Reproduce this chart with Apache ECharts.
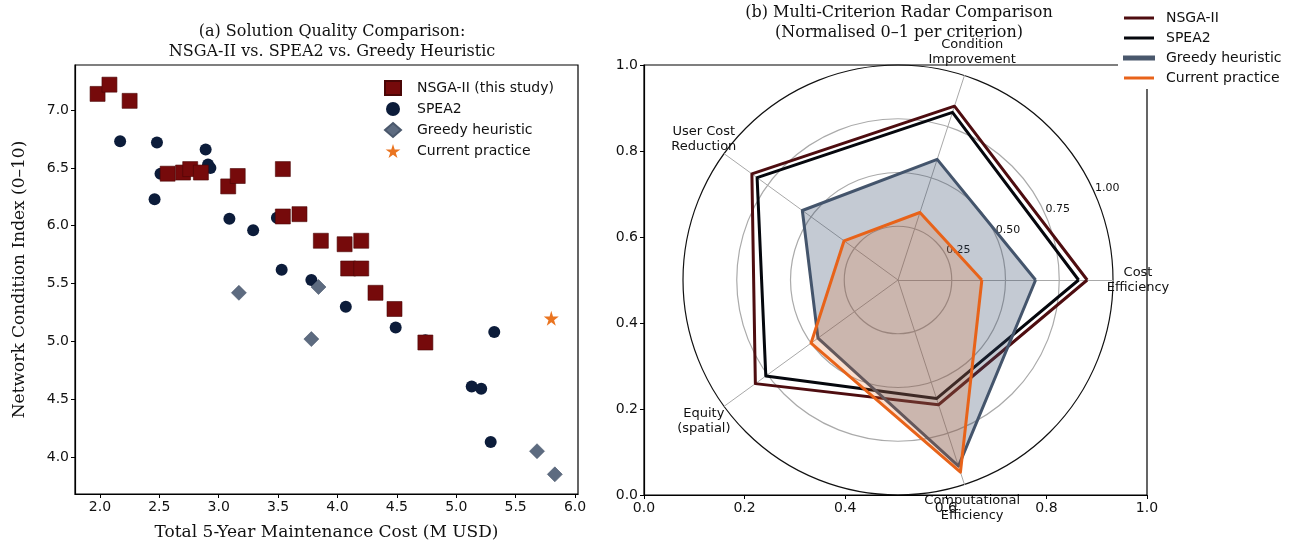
<!DOCTYPE html>
<html>
<head>
<meta charset="utf-8">
<script src="https://cdn.jsdelivr.net/npm/echarts@6/dist/echarts.min.js"></script>
<style>
html,body{margin:0;padding:0;background:#fff;}
#chart{width:1292px;height:546px;}
</style>
</head>
<body>
<div id="chart"></div>
<script>
// ---------------------------------
// 数据
// ---------------------------------

// (a) scatter: [cost M USD, condition index]
const nsgaPoints = [
[1.98,7.14],[2.08,7.22],[2.25,7.08],[2.57,6.45],[2.70,6.46],[2.76,6.49],
[2.85,6.46],[3.08,6.34],[3.16,6.43],[3.54,6.49],[3.54,6.08],[3.68,6.10],
[3.86,5.87],[4.06,5.84],[4.20,5.87],[4.09,5.63],[4.20,5.63],[4.32,5.42],
[4.48,5.28],[4.74,4.99]
];

const speaPoints = [
[2.17,6.73],[2.48,6.72],[2.51,6.45],[2.46,6.23],[2.89,6.66],[2.91,6.53],
[2.93,6.50],[3.16,6.43],[3.09,6.06],[3.29,5.96],[3.49,6.07],[3.53,5.62],
[3.78,5.53],[4.07,5.30],[4.49,5.12],[4.74,5.01],[5.32,5.08],[5.13,4.61],
[5.21,4.59],[5.29,4.13]
];

const greedyPoints = [
[3.17,5.42],[3.84,5.47],[3.78,5.02],[5.68,4.05],[5.83,3.85]
];

const currentPoint = [
[5.80,5.20]
];

const costTicks = [2.0,2.5,3.0,3.5,4.0,4.5,5.0,5.5,6.0];
const conditionTicks = [4.0,4.5,5.0,5.5,6.0,6.5,7.0];

// (b) radar, normalised 0-1
const criteria = [
"Cost\nEfficiency",
"Condition\nImprovement",
"User Cost\nReduction",
"Equity\n(spatial)",
"Computational\nEfficiency"
];

const nsgaScores = [0.88,0.85,0.84,0.82,0.61];
const speaScores = [0.84,0.82,0.81,0.76,0.58];
const greedyScores = [0.64,0.59,0.55,0.46,0.91];
const currentScores = [0.39,0.33,0.31,0.50,0.94];

const radialTicks = [0.25,0.50,0.75,1.00];


// ---------------------------------
// 样式
// ---------------------------------

const SANS = "DejaVu Sans";
const SERIF = "DejaVu Serif";
const STAR = "path://M50,0 L61,35 L98,35 L68,57 L79,91 L50,70 L21,91 L32,57 L2,35 L39,35 Z";

const C_NSGA = "#760a0b";
const C_SPEA = "#0c1c3a";
const C_GREEDY = "#5d6b80";
const C_CURRENT = "#ea7420";

const RADAR_CENTER = [898,280];
const RADAR_R = 215;


const chart = echarts.init(document.getElementById("chart"));


function tickAxis(minV,maxV,ticks,name,gap){

return {
min:minV,
max:maxV,
name:name,
nameLocation:"middle",
nameGap:gap,
nameTextStyle:{fontFamily:SERIF,fontSize:17,color:"#111"},
axisLine:{show:true,onZero:false,lineStyle:{color:"#000",width:1.2}},
axisTick:{show:true,length:4,customValues:ticks,lineStyle:{color:"#000"}},
axisLabel:{
customValues:ticks,
fontFamily:SANS,
fontSize:14,
color:"#111",
margin:6,
formatter:v=>v.toFixed(1)
},
splitLine:{show:false}
};

}


function boxAxis(){

return {
min:0,
max:1,
interval:0.2,
axisLine:{show:true,onZero:false,lineStyle:{color:"#000",width:1.2}},
axisTick:{show:true,length:4,lineStyle:{color:"#000"}},
axisLabel:{fontFamily:SANS,fontSize:14,color:"#111",margin:6,formatter:v=>v.toFixed(1)},
splitLine:{show:false}
};

}


function radarItem(name,values,color,fill,opacity){

return {
name:name,
value:values,
symbol:"none",
lineStyle:{color:color,width:3},
areaStyle:fill ? {color:fill,opacity:opacity} : undefined
};

}


chart.setOption({

animation:false,

title:[
{
text:"(a) Solution Quality Comparison:\nNSGA-II vs. SPEA2 vs. Greedy Heuristic",
left:327,
top:17,
textAlign:"center",
textStyle:{fontFamily:SERIF,fontSize:16,fontWeight:"normal",color:"#111",lineHeight:20}
},
{
text:"(b) Multi-Criterion Radar Comparison\n(Normalised 0\u20131 per criterion)",
left:894,
top:-2,
textAlign:"center",
textStyle:{fontFamily:SERIF,fontSize:16,fontWeight:"normal",color:"#111",lineHeight:20}
}
],

legend:[
{
orient:"vertical",
left:379,
top:75,
itemWidth:16,
itemHeight:14,
itemGap:6,
textStyle:{fontFamily:SANS,fontSize:14,color:"#111",padding:[0,0,0,11]},
data:[
{name:"NSGA-II (this study)",icon:"rect"},
{name:"SPEA2",icon:"circle"},
{name:"Greedy heuristic",icon:"diamond"},
{name:"Current practice",icon:STAR}
]
},
{
orient:"vertical",
left:1118,
top:1,
padding:[10,4,4,5],
backgroundColor:"#fff",
itemWidth:30,
itemHeight:3,
itemGap:6,
textStyle:{fontFamily:SANS,fontSize:14,color:"#111",lineHeight:14,padding:[0,0,0,7]},
data:[
{name:"NSGA-II",icon:"rect",itemStyle:{color:"#4e0d10"}},
{name:"SPEA2",icon:"rect",itemStyle:{color:"#05070d"}},
{name:"Greedy heuristic",icon:"rect",itemStyle:{color:"#46566c"}},
{name:"Current practice",icon:"rect",itemStyle:{color:"#e8631a"}}
]
}
],

grid:[
{left:75,top:65,width:503,height:430,show:true,borderColor:"#000",borderWidth:1.2},
{left:644,top:65,width:503,height:430,show:true,borderColor:"#000",borderWidth:1.2}
],

xAxis:[
Object.assign({type:"value",gridIndex:0},tickAxis(1.79,6.025,costTicks,"Total 5-Year Maintenance Cost (M USD)",30)),
Object.assign({type:"value",gridIndex:1},boxAxis())
],

yAxis:[
Object.assign({type:"value",gridIndex:0},tickAxis(3.68,7.39,conditionTicks,"Network Condition Index (0\u201310)",47)),
Object.assign({type:"value",gridIndex:1},boxAxis())
],

radar:{
center:RADAR_CENTER,
radius:RADAR_R,
startAngle:0,
shape:"circle",
splitNumber:4,
indicator:criteria.map(n=>({name:n,min:0,max:1})),
axisName:{
fontFamily:SANS,
fontSize:13,
color:"#111",
lineHeight:15,
align:"center",
verticalAlign:"middle"
},
nameGap:25,
axisLine:{lineStyle:{color:"#a8a8a8",width:1}},
splitLine:{lineStyle:{color:["#aaaaaa","#aaaaaa","#aaaaaa","#aaaaaa","#111111"],width:1.2}},
splitArea:{show:false}
},

polar:{
center:RADAR_CENTER,
radius:RADAR_R
},

angleAxis:{
show:false,
type:"value",
min:0,
max:360,
startAngle:22.5
},

radiusAxis:{
type:"value",
min:0,
max:1,
interval:0.25,
axisLine:{show:false},
axisTick:{show:false},
splitLine:{show:false},
axisLabel:{
fontFamily:SANS,
fontSize:11,
color:"#111",
margin:4,
align:"left",
verticalAlign:"bottom",
formatter:v=>radialTicks.indexOf(v) >= 0 ? v.toFixed(2) : ""
}
},

series:[
{
name:"NSGA-II (this study)",
type:"scatter",
xAxisIndex:0,
yAxisIndex:0,
symbol:"rect",
symbolSize:15,
itemStyle:{color:C_NSGA,opacity:1,borderColor:"#4a0606",borderWidth:0.6},
data:nsgaPoints,
z:3
},
{
name:"SPEA2",
type:"scatter",
xAxisIndex:0,
yAxisIndex:0,
symbol:"circle",
symbolSize:12,
itemStyle:{color:C_SPEA,opacity:1},
data:speaPoints,
z:2
},
{
name:"Greedy heuristic",
type:"scatter",
xAxisIndex:0,
yAxisIndex:0,
symbol:"diamond",
symbolSize:15,
itemStyle:{color:C_GREEDY,opacity:1,borderColor:"#4a586c",borderWidth:0.6},
data:greedyPoints,
z:4
},
{
name:"Current practice",
type:"scatter",
xAxisIndex:0,
yAxisIndex:0,
symbol:STAR,
symbolSize:15,
itemStyle:{color:C_CURRENT,opacity:1},
data:currentPoint,
z:5
},
{
name:"radar",
type:"radar",
z:3,
data:[
radarItem("NSGA-II",nsgaScores,"#4e0d10"),
radarItem("SPEA2",speaScores,"#05070d"),
radarItem("Greedy heuristic",greedyScores,"#46566c","#3d4f6e",0.3),
radarItem("Current practice",currentScores,"#e8631a","#e8631a",0.2)
]
}
]

});


window.addEventListener(
"resize",
()=>chart.resize()
);
</script>
</body>
</html>
